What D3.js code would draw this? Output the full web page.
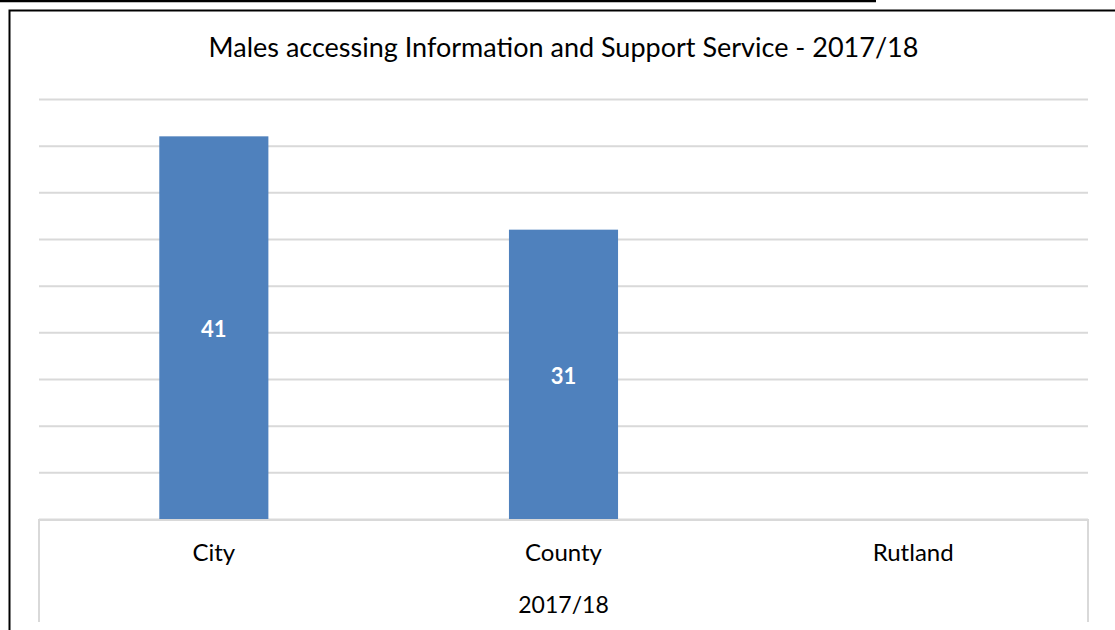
<!DOCTYPE html>
<html>
<head>
<meta charset="utf-8">
<script src="https://cdn.jsdelivr.net/npm/d3@7"></script>
<style>
  body { margin: 0; background: #fff; }
  svg { display: block; }
  text { font-family: Lato, "Open Sans", sans-serif; }
</style>
</head>
<body>
<div id="chart"></div>
<script>
// chart data
const categories = ["City", "County", "Rutland"];
const values = [41, 31, null];
const groupLabel = "2017/18";
const yTicks = [0, 5, 10, 15, 20, 25, 30, 35, 40, 45];
const title = "Males accessing Information and Support Service - 2017/18";

const width = 1115, height = 630;
const plot = { left: 39, right: 1088, top: 99, bottom: 519 };

const svg = d3.select("#chart").append("svg")
  .attr("width", width)
  .attr("height", height);

// page rule above the chart and the chart frame
svg.append("line")
  .attr("x1", 0).attr("x2", 876).attr("y1", 1).attr("y2", 1)
  .attr("stroke", "#000").attr("stroke-width", 2.5);
svg.append("rect")
  .attr("x", 9.5).attr("y", 10.5)
  .attr("width", width + 20).attr("height", height + 20)
  .attr("fill", "none").attr("stroke", "#000").attr("stroke-width", 2);

let x = d3.scaleBand()
  .domain(categories)
  .range([plot.left, plot.right])
  .paddingInner(0.688)
  .paddingOuter(0.344);

let y = d3.scaleLinear()
  .domain([0, 45])
  .range([plot.bottom, plot.top]);

// gridlines
svg.append("g")
  .attr("transform", `translate(${plot.left},0)`)
  .call(d3.axisLeft(y).tickValues(yTicks).tickSize(-(plot.right - plot.left)).tickFormat(""))
  .call(g => g.select(".domain").remove())
  .call(g => g.selectAll(".tick line").attr("stroke", "#d9d9d9").attr("stroke-width", 2));

// bars
let data = categories.map((c, i) => ({ cat: c, value: values[i] }))
  .filter(d => d.value != null);

svg.selectAll(".bar")
  .data(data)
  .enter().append("rect")
  .attr("class", "bar")
  .attr("x", d => x(d.cat))
  .attr("y", d => y(d.value))
  .attr("width", x.bandwidth())
  .attr("height", d => y(0) - y(d.value))
  .attr("fill", "#4f81bd");

svg.selectAll(".label")
  .data(data)
  .enter().append("text")
  .attr("class", "label")
  .attr("x", d => x(d.cat) + x.bandwidth() / 2)
  .attr("y", d => (y(d.value) + y(0)) / 2 + 2)
  .attr("dy", "0.35em")
  .attr("text-anchor", "middle")
  .attr("fill", "#fff")
  .attr("font-weight", "bold")
  .attr("font-size", 22)
  .text(d => d.value);

// category axis box
let axisBox = svg.append("g").attr("stroke", "#d9d9d9").attr("stroke-width", 2);
axisBox.append("line")
  .attr("x1", plot.left).attr("x2", plot.right)
  .attr("y1", y(0) + 1).attr("y2", y(0) + 1);
axisBox.selectAll(".edge")
  .data([plot.left, plot.right])
  .enter().append("line")
  .attr("x1", d => d).attr("x2", d => d)
  .attr("y1", y(0)).attr("y2", 622);

svg.selectAll(".cat")
  .data(categories)
  .enter().append("text")
  .attr("class", "cat")
  .attr("x", d => x(d) + x.bandwidth() / 2)
  .attr("y", 553)
  .attr("dy", "0.35em")
  .attr("text-anchor", "middle")
  .attr("font-size", 24)
  .attr("fill", "#000")
  .text(d => d);

svg.append("text")
  .attr("x", (plot.left + plot.right) / 2)
  .attr("y", 605)
  .attr("dy", "0.35em")
  .attr("text-anchor", "middle")
  .attr("font-size", 23)
  .attr("fill", "#000")
  .text(groupLabel);

svg.append("text")
  .attr("x", (plot.left + plot.right) / 2)
  .attr("y", 48)
  .attr("dy", "0.35em")
  .attr("text-anchor", "middle")
  .attr("font-size", 27)
  .attr("fill", "#000")
  .text(title);
</script>
</body>
</html>
